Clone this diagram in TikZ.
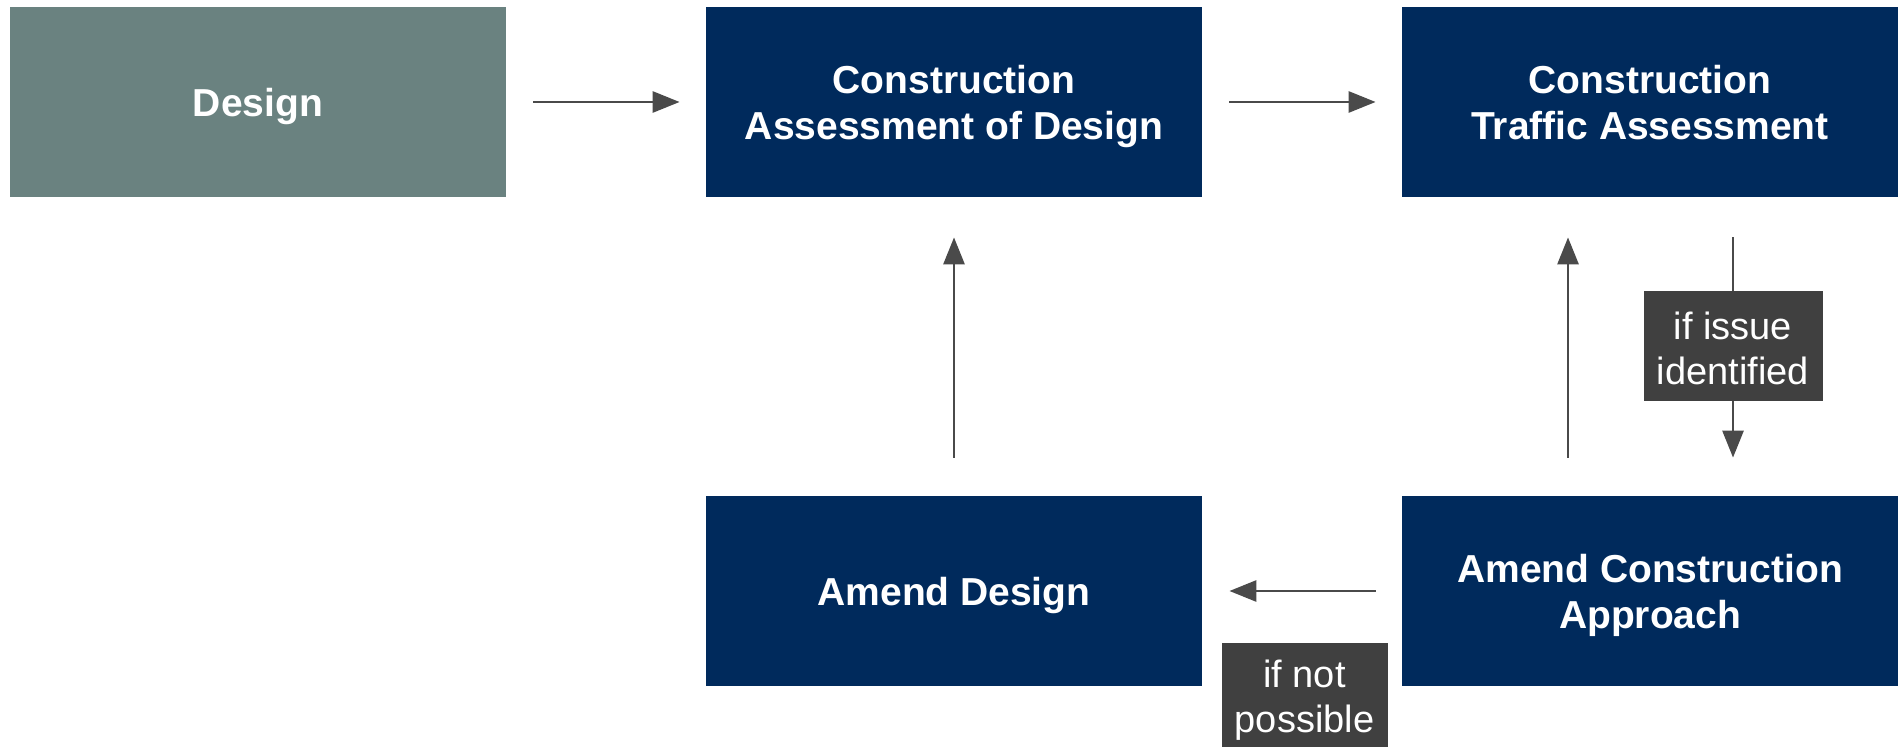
\documentclass[tikz,border=0pt]{standalone}
\usepackage{fontspec}
\setmainfont{Liberation Sans}
\usetikzlibrary{arrows.meta}
\definecolor{navybox}{RGB}{0,42,92}
\definecolor{designgray}{RGB}{106,130,128}
\definecolor{labelgray}{RGB}{64,64,64}
\definecolor{arrowgray}{RGB}{74,74,74}
\begin{document}
\begin{tikzpicture}[x=0.5pt,y=-0.5pt,
  box/.style={rectangle, fill=navybox, minimum width=248pt, minimum height=95pt, inner sep=0pt},
  boxtext/.style={inner sep=0pt, text=white, font=\bfseries\fontsize{19.5}{23}\selectfont, align=center,
    execute at begin node=\strut, execute at end node=\strut},
  tag/.style={rectangle, fill=labelgray, minimum width=89.5pt, minimum height=55pt, inner sep=0pt},
  tagtext/.style={inner sep=0pt, text=white, align=center, font=\fontsize{19}{22.5}\selectfont},
  arr/.style={draw=arrowgray, line width=1.4pt, -{Triangle[length=13.5pt,width=10.5pt]}}
]
\useasboundingbox (0,0) rectangle (1898,747);
\clip (0,0) rectangle (1898,747);
\fill[white] (0,0) rectangle (1898,747);

\node[box, fill=designgray] (design) at (258,102) {};
\node[box] (cad) at (954,102) {};
\node[box] (cta) at (1650,102) {};
\node[box] (ad) at (954,591) {};
\node[box] (aca) at (1650,591) {};

\node[boxtext] (designtext) at ([yshift=-2.5pt]design.center) {Design};
\node[boxtext] (cadtext) at ([yshift=-3.7pt]cad.center) {Construction\\Assessment of Design};
\node[boxtext] (ctatext) at ([yshift=-3.7pt]cta.center) {Construction\\Traffic Assessment};
\node[boxtext] (adtext) at ([yshift=-2.5pt]ad.center) {Amend Design};
\node[boxtext] (acatext) at ([yshift=-3.7pt]aca.center) {Amend Construction\\Approach};

\draw[arr, shorten <=13.5pt, shorten >=13pt] (design) -- (cad);
\draw[arr, shorten <=13.5pt, shorten >=13pt] (cad) -- (cta);
\draw[arr, shorten <=19pt, shorten >=20pt] (ad) -- (cad);
\draw[arr, shorten <=19pt, shorten >=20pt] ([xshift=-41pt]aca.north) -- ([xshift=-41pt]cta.south);
\draw[arr, shorten <=20pt, shorten >=19pt] ([xshift=41.5pt]cta.south) -- ([xshift=41.5pt]aca.north);
\draw[arr, shorten <=13pt, shorten >=13.5pt] (aca) -- (ad);

\node[tag] (issue) at (1733,346.5) {};
\node[tagtext] (issuetext) at ([yshift=-1pt]issue.center) {if issue\\identified};
\node[tag, minimum width=83pt] (notposs) at (1304.5,698) {};
\node[tagtext] (notposstext) at ([yshift=-1pt]notposs.center) {if not\\possible};
\end{tikzpicture}
\end{document}
